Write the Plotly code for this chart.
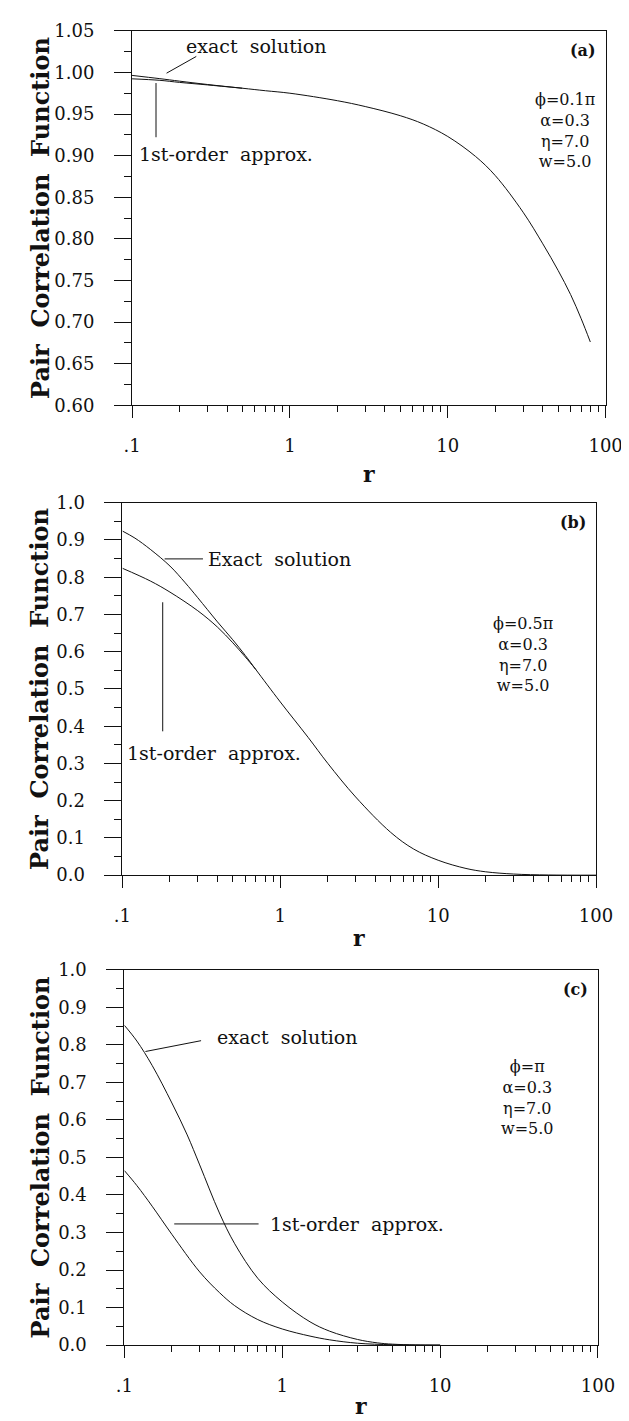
import plotly.graph_objects as go

# ---------------- data ----------------
r_a = [0.1, 0.15, 0.2, 0.3, 0.5, 0.7, 1, 2, 3, 5, 7, 10, 15, 20, 30, 40, 50, 60, 70, 80]
exact_a = [0.9964, 0.9925, 0.9895, 0.9855, 0.981, 0.978, 0.975, 0.966, 0.959, 0.948, 0.938,
           0.923, 0.899, 0.876, 0.832, 0.794, 0.762, 0.733, 0.704, 0.676]
r_a_approx = [0.1, 0.15, 0.2, 0.3, 0.5]
approx_a = [0.9923, 0.9905, 0.988, 0.985, 0.981]

r_b = [0.1, 0.12, 0.15, 0.2, 0.25, 0.3, 0.4, 0.5, 0.6, 0.7, 1, 1.5, 2, 3, 5, 7, 10, 15, 20,
       30, 50, 100]
exact_b = [0.924, 0.905, 0.875, 0.830, 0.785, 0.745, 0.680, 0.632, 0.590, 0.552, 0.465, 0.370,
           0.300, 0.210, 0.115, 0.070, 0.040, 0.018, 0.009, 0.003, 0.0005, 0.0]
r_b_approx = [0.1, 0.15, 0.2, 0.3, 0.4, 0.5, 0.6, 0.7]
approx_b = [0.824, 0.790, 0.760, 0.710, 0.666, 0.624, 0.586, 0.552]

r_c = [0.1, 0.12, 0.15, 0.2, 0.25, 0.3, 0.4, 0.5, 0.7, 1, 1.5, 2, 3, 4, 5, 7, 10]
exact_c = [0.852, 0.810, 0.745, 0.645, 0.560, 0.480, 0.352, 0.270, 0.178, 0.115, 0.062,
           0.037, 0.015, 0.006, 0.0025, 0.0005, 0.0]
r_c_approx = [0.1, 0.12, 0.15, 0.2, 0.3, 0.4, 0.5, 0.7, 1, 1.5, 2, 3, 5, 10]
approx_c = [0.465, 0.425, 0.370, 0.295, 0.195, 0.140, 0.105, 0.068, 0.043, 0.024, 0.014,
            0.005, 0.001, 0.0]

x_tickvals = [0.1, 1, 10, 100]
x_ticktext = [".1", "1", "10", "100"]
x_minor = [0.2, 0.3, 0.4, 0.5, 0.6, 0.7, 0.8, 0.9, 2, 3, 4, 5, 6, 7, 8, 9,
           20, 30, 40, 50, 60, 70, 80, 90]

panel_labels = ["(a)", "(b)", "(c)"]
param_text = [["\u03d5=0.1\u03c0", "\u03b1=0.3", "\u03b7=7.0", "w=5.0"],
              ["\u03d5=0.5\u03c0", "\u03b1=0.3", "\u03b7=7.0", "w=5.0"],
              ["\u03d5=\u03c0", "\u03b1=0.3", "\u03b7=7.0", "w=5.0"]]
exact_labels = ["exact\u00a0\u00a0solution", "Exact\u00a0\u00a0solution", "exact\u00a0\u00a0solution"]
approx_label = "1st-order\u00a0\u00a0approx."
y_title = "Pair\u00a0\u00a0Correlation\u00a0\u00a0Function"

# ---------------- layout helpers ----------------
W, H = 629, 1421
FONT = "DejaVu Serif"
INK = "#111"

# pixel boxes: (left, right, top, bottom)
boxes = [(120, 614, 12, 392), (110, 604, 491, 869), (112, 606, 965, 1346)]
yranges = [[0.60, 1.05], [0.0, 1.0], [0.0, 1.0]]
ydticks = [0.05, 0.1, 0.1]
yfmts = [".2f", ".1f", ".1f"]
rtitle_off = [70, 64, 62]

fig = go.Figure()
layout = dict(width=W, height=H, margin=dict(l=0, r=0, t=0, b=0),
              paper_bgcolor="white", plot_bgcolor="white", showlegend=False,
              font=dict(family=FONT, color=INK))
annotations = []

series = [(r_a, exact_a, r_a_approx, approx_a),
          (r_b, exact_b, r_b_approx, approx_b),
          (r_c, exact_c, r_c_approx, approx_c)]

for i, (box, yr, dt, fmt) in enumerate(zip(boxes, yranges, ydticks, yfmts)):
    L, R, T, B = box
    xa = "xaxis" if i == 0 else f"xaxis{i+1}"
    ya = "yaxis" if i == 0 else f"yaxis{i+1}"
    xr = "x" if i == 0 else f"x{i+1}"
    yrf = "y" if i == 0 else f"y{i+1}"
    layout[xa] = dict(
        domain=[L / W, R / W], anchor=yrf, type="log", range=[-1, 2],
        tickvals=x_tickvals, ticktext=x_ticktext, ticks="outside", ticklen=12,
        tickwidth=1, tickcolor=INK, showline=True, linecolor=INK, linewidth=1,
        mirror=True, showgrid=False, zeroline=False,
        tickfont=dict(family=FONT, size=18, color=INK), ticklabelstandoff=12,
        minor=dict(tickvals=x_minor, ticks="outside", ticklen=6, tickcolor=INK,
                   tickwidth=1, showgrid=False),
    )
    layout[ya] = dict(
        domain=[1 - B / H, 1 - T / H], anchor=xr, range=yr, dtick=dt, tick0=0,
        tickformat=fmt, ticks="outside", ticklen=17, tickwidth=1, tickcolor=INK,
        showline=True, linecolor=INK, linewidth=1, mirror=True, showgrid=False,
        zeroline=False, tickfont=dict(family=FONT, size=18, color=INK),
        ticklabelstandoff=16,
        minor=dict(dtick=dt / 2, tick0=0, ticks="outside", ticklen=7, tickcolor=INK,
                   tickwidth=1, showgrid=False),
    )
    rx, ex, rxa, ap = series[i]
    fig.add_trace(go.Scatter(x=rx, y=ex, mode="lines", xaxis=xr, yaxis=yrf,
                             line=dict(color=INK, width=1, shape="spline", smoothing=1.0),
                             hoverinfo="skip"))
    fig.add_trace(go.Scatter(x=rxa, y=ap, mode="lines", xaxis=xr, yaxis=yrf,
                             line=dict(color=INK, width=1, shape="spline", smoothing=1.0),
                             hoverinfo="skip"))
    # y-axis title
    annotations.append(dict(text="<b>" + y_title + "</b>", xref="paper", yref="paper",
                             x=24 / W, y=1 - (T + B) / 2 / H, textangle=-90, showarrow=False,
                             font=dict(family=FONT, size=24, color=INK),
                             xanchor="center", yanchor="middle"))
    # x-axis title
    annotations.append(dict(text="<b>r</b>", xref="paper", yref="paper",
                             x=(L + R) / 2 / W, y=1 - (B + rtitle_off[i]) / H, showarrow=False,
                             font=dict(family=FONT, size=22, color=INK),
                             xanchor="center", yanchor="middle"))
    # panel label
    annotations.append(dict(text="<b>" + panel_labels[i] + "</b>", xref="paper", yref="paper",
                             x=(R - 8) / W, y=1 - (T + 20) / H, showarrow=False,
                             font=dict(family=FONT, size=16, color=INK),
                             xanchor="right", yanchor="middle"))

# parameter blocks (paper pixel positions of block top)
param_pos = [(572, 70), (528, 602), (532, 1052)]
for i, (px, py) in enumerate(param_pos):
    annotations.append(dict(text="<br>".join(param_text[i]), xref="paper", yref="paper",
                             x=px / W, y=1 - py / H, showarrow=False, align="center",
                             font=dict(family=FONT, size=16, color=INK),
                             xanchor="center", yanchor="top"))

# curve labels (pixel positions) and leader lines
def px2paper(px, py):
    return px / W, 1 - py / H

labels = [
    (exact_labels[0], 250, 27, [(156, 55), (187, 38)]),
    (approx_label, 218, 137, [(145, 65), (145, 120)]),
    (exact_labels[1], 274, 548, [(154, 548), (194, 548)]),
    (approx_label, 205, 745, [(152, 592), (152, 723)]),
    (exact_labels[2], 282, 1033, [(134, 1048), (192, 1037)]),
    (approx_label, 355, 1223, [(164, 1223), (252, 1223)]),
]
shapes = []
for txt, tx, ty, seg in labels:
    x, y = px2paper(tx, ty)
    annotations.append(dict(text=txt, xref="paper", yref="paper", x=x, y=y,
                             showarrow=False, font=dict(family=FONT, size=19, color=INK),
                             xanchor="center", yanchor="middle"))
    (x0, y0), (x1, y1) = seg
    a0, b0 = px2paper(x0, y0)
    a1, b1 = px2paper(x1, y1)
    shapes.append(dict(type="line", xref="paper", yref="paper", x0=a0, y0=b0, x1=a1, y1=b1,
                       line=dict(color=INK, width=1)))

layout["annotations"] = annotations
layout["shapes"] = shapes
fig.update_layout(**layout)
fig.write_html("out.html")
